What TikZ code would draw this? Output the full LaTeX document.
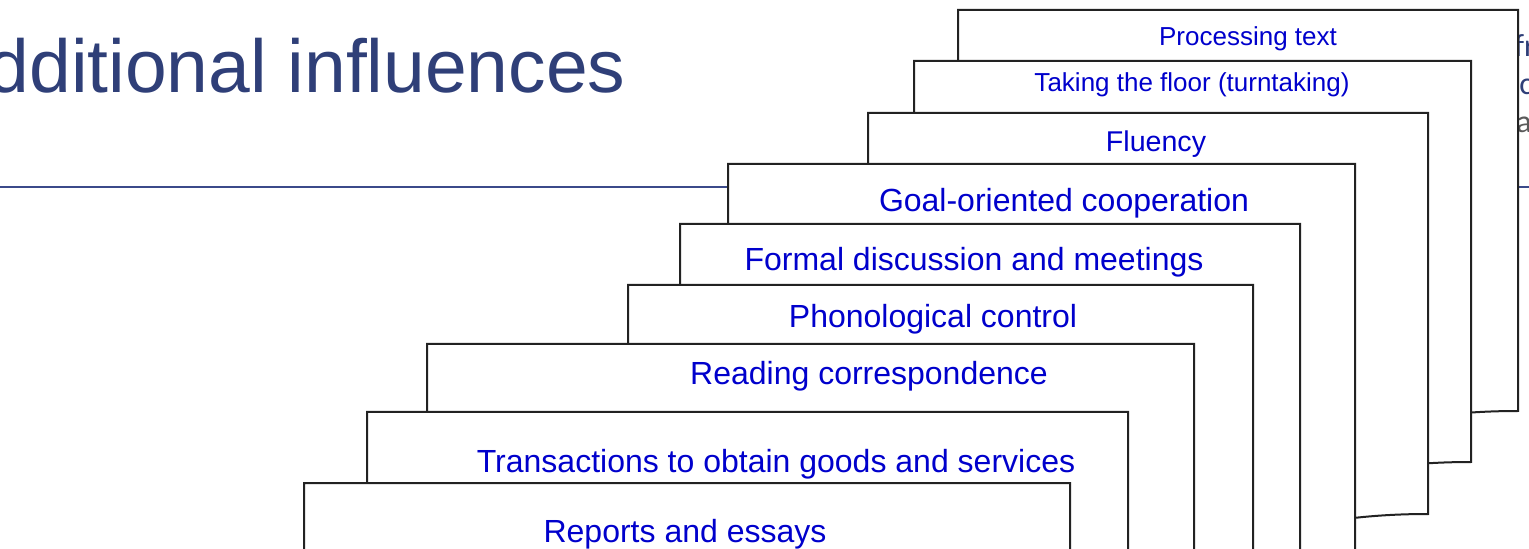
\documentclass[tikz,border=0pt]{standalone}
\usepackage{fontspec}
\setmainfont{Liberation Sans}
\newfontfamily\sidefont{Carlito}

\definecolor{titleblue}{HTML}{2F3F78}
\definecolor{ruleblue}{HTML}{3B4A8A}
\definecolor{cardblue}{HTML}{0000CC}
\definecolor{sidegray}{HTML}{5A5A5A}
\definecolor{cardedge}{HTML}{222222}

\tikzset{
    card/.style={draw=cardedge, fill=white, line width=1pt},
    card label/.style={text=cardblue, inner sep=0, anchor=base, font=\fontsize{16}{19}\selectfont},
    small label/.style={card label, font=\fontsize{13}{16}\selectfont},
    side text/.style={inner sep=0, anchor=base west, font=\sidefont\fontsize{16}{19}\selectfont}
    }

% document shape with a wavy foot: left, top, right
\newcommand{\doccard}[3]{%
    \pgfmathsetmacro\cardmid{(#1+#3)/2}%
    \pgfmathsetmacro\cardright{#2+401}%
    \pgfmathsetmacro\cardleft{#2+467}%
    \pgfmathsetmacro\carddip{#2+554}%
    \draw[card] (#1,#2) -- (#3,#2) -- (#3,\cardright)
        .. controls (\cardmid,\cardright) and (\cardmid,\carddip) .. (#1,\cardleft) -- cycle;
}

\begin{document}
\begin{tikzpicture}[x=0.5pt, y=-0.5pt]
    \useasboundingbox (0,0) rectangle (1529,549);
    % Heading and rule
    \node[anchor=base east, inner sep=0, text=titleblue, font=\fontsize{37.5}{44}\selectfont] (title) at (626,93) {dditional influences};
    \coordinate (rule start) at (0,187);
    \coordinate (rule end) at (1529,187);
    \draw[ruleblue, line width=1.4pt] (rule start) -- (rule end);
    % Text peeking out on the right
    \node[side text, text=titleblue] (side1) at (1514,57) {fr};
    \node[side text, text=titleblue] (side2) at (1519,95) {c};
    \node[side text, text=sidegray] (side3) at (1516,133) {al};
    % The cards, back to front
    \doccard{958}{10}{1518}
    \node[small label] (processing) at (1248,46) {Processing text};
    \doccard{914}{61}{1471}
    \node[small label] (turntaking) at (1192,92) {Taking the floor (turntaking)};
    \doccard{868}{113}{1428}
    \node[card label, font=\fontsize{14.3}{17}\selectfont] (fluency) at (1156,152) {Fluency};
    \doccard{728}{164}{1355}
    \node[card label] (cooperation) at (1064,212) {Goal-oriented cooperation};
    \doccard{680}{224}{1300}
    \node[card label] (meetings) at (974,271) {Formal discussion and meetings};
    \doccard{628}{285}{1253}
    \node[card label] (phonology) at (933,328) {Phonological control};
    \doccard{427}{344}{1194}
    \node[card label] (reading) at (869,385) {Reading correspondence};
    \doccard{367}{412}{1128}
    \node[card label] (transactions) at (776,473) {Transactions to obtain goods and services};
    \doccard{304}{483}{1070}
    \node[card label] (reports) at (685,542) {Reports and essays};
\end{tikzpicture}
\end{document}
